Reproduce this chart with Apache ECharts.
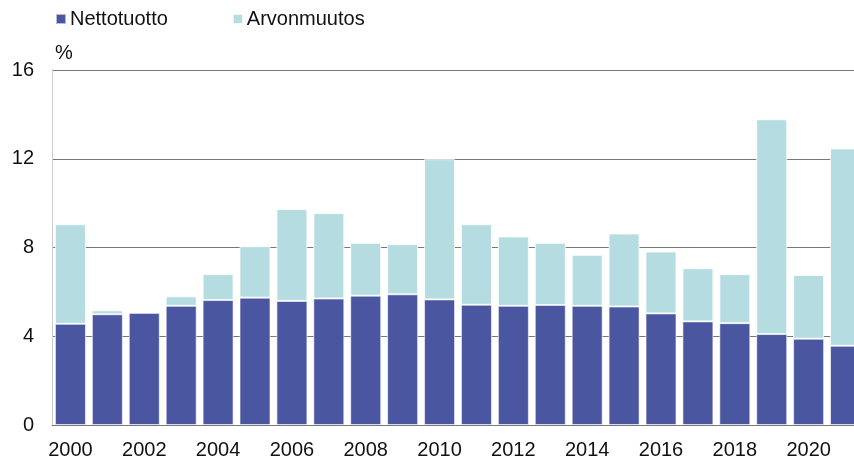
<!DOCTYPE html>
<html>
<head>
<meta charset="utf-8">
<script src="https://cdn.jsdelivr.net/npm/echarts@6/dist/echarts.min.js"></script>
<style>html,body{margin:0;padding:0;background:#fff;overflow:hidden}#c{width:864px;height:463px}</style>
</head>
<body>
<div id="c"></div>
<script>
const years = ['2000','2001','2002','2003','2004','2005','2006','2007','2008','2009','2010','2011','2012','2013','2014','2015','2016','2017','2018','2019','2020','2021'];
const nettotuotto = [4.56,4.99,5.06,5.37,5.63,5.74,5.59,5.70,5.83,5.89,5.66,5.42,5.37,5.41,5.37,5.34,5.03,4.67,4.59,4.10,3.89,3.57];
const arvonmuutos = [4.49,0.18,0.00,0.43,1.17,2.32,4.14,3.85,2.38,2.26,6.32,3.63,3.13,2.80,2.30,3.29,2.79,2.40,2.21,9.68,2.87,8.89];
const yTicks = [0,4,8,12,16];

const font = 'Liberation Sans, Arial, sans-serif';
const chart = echarts.init(document.getElementById('c'), null, {renderer:'canvas'});
chart.setOption({
  animation:false,
  legend:{
    left:50, top:4, itemWidth:10, itemHeight:10, itemGap:64, icon:'rect',
    textStyle:{fontFamily:font, fontSize:20, color:'#111', padding:[0,0,0,-1]},
    data:['Nettotuotto','Arvonmuutos']
  },
  grid:{left:52, right:0, top:70, bottom:38},
  xAxis:{
    type:'category', data:years,
    axisTick:{show:false},
    axisLine:{lineStyle:{color:'#777', width:1}},
    axisLabel:{interval:1, fontFamily:font, fontSize:20, color:'#111', margin:15}
  },
  yAxis:{
    type:'value', min:yTicks[0], max:yTicks[yTicks.length-1], interval:4,
    name:'%', nameLocation:'end', nameGap:7,
    nameTextStyle:{fontFamily:font, fontSize:20, color:'#111', align:'left', verticalAlign:'bottom', padding:[0,0,0,3]},
    axisLine:{show:true, lineStyle:{color:'#ccc', width:1}},
    axisTick:{show:false},
    splitLine:{lineStyle:{color:'#777', width:1}},
    axisLabel:{fontFamily:font, fontSize:20, color:'#111', margin:18}
  },
  series:[
    {name:'Nettotuotto', type:'bar', stack:'a', data:nettotuotto, barCategoryGap:'16%',
     itemStyle:{color:'#4B56A0', borderColor:'rgba(255,255,255,0.6)', borderWidth:1}},
    {name:'Arvonmuutos', type:'bar', stack:'a', data:arvonmuutos, barCategoryGap:'16%',
     itemStyle:{color:'#B5DCE1', borderColor:'rgba(255,255,255,0.8)', borderWidth:1}}
  ]
});
</script>
</body>
</html>
